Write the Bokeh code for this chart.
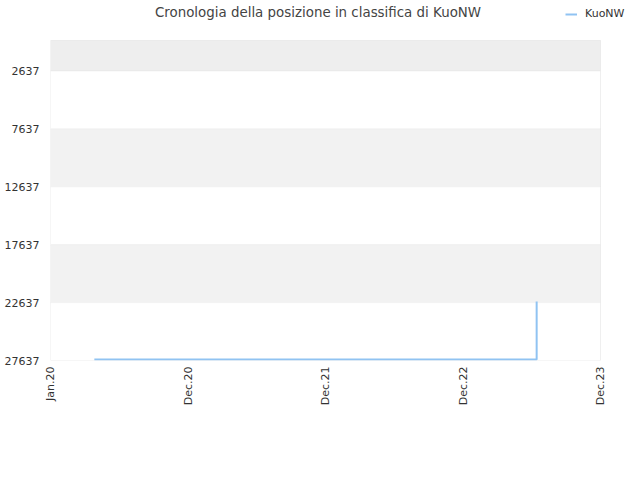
import math
from datetime import datetime
import numpy as np
from bokeh.plotting import figure
from bokeh.models import Range1d, FixedTicker, BoxAnnotation, Legend, LegendItem, Label
from bokeh.embed import file_html
from bokeh.resources import INLINE

# data
dates = ["2020-04-24", "2023-06-18", "2023-06-18", "2023-06-18"]
positions = [27550, 27550, 24420, 22540]
series_name = "KuoNW"
y_ticks = [2637, 7637, 12637, 17637, 22637, 27637]
x_tick_labels = ["Jan.20", "Dec.20", "Dec.21", "Dec.22", "Dec.23"]
x_start = "2020-01-01"
x_end = "2023-12-01"
y_top_value = 0
title_text = "Cronologia della posizione in classifica di KuoNW"

def ms(s):
    return (datetime.strptime(s, "%Y-%m-%d") - datetime(1970, 1, 1)).total_seconds() * 1000.0

xs = [ms(d) for d in dates]
x0, x1 = ms(x_start), ms(x_end)
tick_pos = list(np.linspace(x0, x1, len(x_tick_labels)))

# layout of the page (pixels)
W, H = 640, 480
PL, PR, PT, PB = 50, 600, 40, 360   # visible plot area
TITLE_CX, TITLE_CY = 317.5, 12
y_bottom_value = y_ticks[-1]
ypp = (y_bottom_value - y_top_value) / (PB - PT)      # data units per pixel
xpp = (x1 - x0) / (PR - PL)
# frame extended to the top and right edges so that the title and legend are not clipped
fy_top = y_top_value - PT * ypp
fx_right = x1 + (W - PR) * xpp

p = figure(width=W, height=H, output_backend="svg", toolbar_location=None,
           x_axis_type="datetime",
           x_range=Range1d(x0, fx_right), y_range=Range1d(y_bottom_value, fy_top),
           min_border_left=PL, min_border_right=0, min_border_top=0, min_border_bottom=H - PB)
p.title.visible = False
p.xgrid.grid_line_color = None
p.ygrid.grid_line_color = None
p.outline_line_color = None
p.background_fill_color = "white"
p.border_fill_color = "white"

# bands with grid lines
edges = [y_top_value] + y_ticks
fills = ["#eeeeee", "#ffffff", "#f2f2f2", "#ffffff", "#f2f2f2", "#ffffff"]
for i in range(len(edges) - 1):
    p.add_layout(BoxAnnotation(left=x0, right=x1, bottom=edges[i], top=edges[i + 1],
                               fill_color=fills[i], fill_alpha=1.0,
                               line_color="#e3e3e3", line_width=1, level="underlay"))
p.add_layout(BoxAnnotation(left=x0, right=x1, bottom=y_top_value, top=y_bottom_value,
                           fill_alpha=0, line_color="#dddddd", line_width=1, level="underlay"))

r = p.line(xs, positions, line_color="#90c3f2", line_width=2)

p.xaxis.ticker = FixedTicker(ticks=tick_pos)
p.xaxis.major_label_overrides = {t: l for t, l in zip(tick_pos, x_tick_labels)}
p.xaxis.major_label_orientation = math.pi / 2
p.yaxis.ticker = FixedTicker(ticks=y_ticks)
p.yaxis.major_label_overrides = {t: str(t) for t in y_ticks}

for ax in (p.xaxis, p.yaxis):
    ax.axis_line_color = None
    ax.major_tick_line_color = None
    ax.minor_tick_line_color = None
    ax.major_tick_out = 0
    ax.major_tick_in = 0
    ax.major_label_text_font = "DejaVu Sans"
    ax.major_label_text_font_size = "11px"
    ax.major_label_text_color = "#333333"
p.yaxis.major_label_standoff = 11
p.xaxis.major_label_standoff = 6

# title
p.add_layout(Label(x=x0 + (TITLE_CX - PL) * xpp, y=y_top_value - (PT - TITLE_CY) * ypp,
                   text=title_text, text_font="DejaVu Sans", text_font_size="13.4px",
                   text_color="#444444", text_align="center", text_baseline="middle"))

legend = Legend(items=[LegendItem(label=series_name, renderers=[r])],
                location=(515, 340), orientation="horizontal",
                background_fill_alpha=0, border_line_alpha=0,
                label_text_font="DejaVu Sans", label_text_font_size="11px",
                label_text_color="#333333", glyph_width=12, glyph_height=10,
                padding=0, margin=0, spacing=0, label_standoff=8)
p.add_layout(legend, "center")

open("out.html", "w").write(file_html(p, INLINE))
